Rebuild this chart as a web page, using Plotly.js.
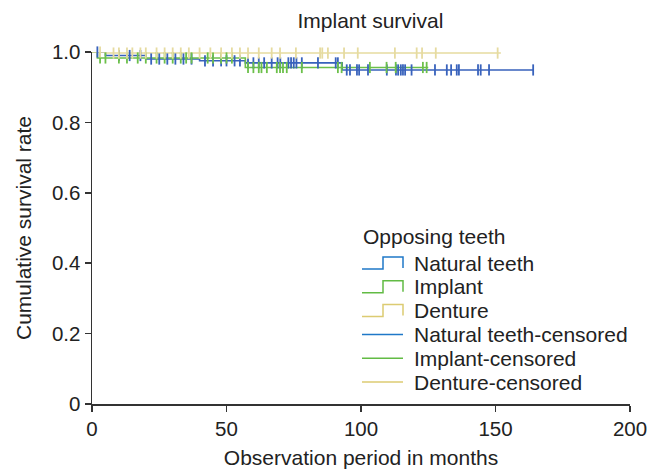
<!DOCTYPE html>
<html><head><meta charset="utf-8">
<script src="https://cdn.plot.ly/plotly-3.0.1.min.js"></script>
<style>html,body{margin:0;padding:0;background:#fff}</style>
</head><body><div id="chart" style="width:651px;height:469px"></div>
<script>
// Kaplan-Meier step curves (event times / survival levels)
const naturalT = [0, 5, 20, 40, 57, 93, 164];
const naturalS = [1.0, 0.99, 0.98, 0.975, 0.969, 0.949, 0.949];
const implantT = [0, 2, 57, 125];
const implantS = [1.0, 0.983, 0.956, 0.956];
const dentureT = [0, 5, 152];
const dentureS = [1.0, 0.997, 0.997];

// Censored observation times (months)
const naturalCens = [2, 10, 14, 18, 22, 25, 28, 31, 34, 37, 42, 45, 48, 50, 53, 55, 58, 60, 62, 64,
  66.8, 69, 70, 73, 74, 75, 76, 78, 84, 90.6, 91.4,
  94.7, 95.9, 98.5, 99.3, 102.6, 109.6, 113, 113.8, 114.8, 115.6, 116.4, 118.8, 127.5, 131.9, 133.5,
  135.6, 136.4, 143.5, 144.5, 147.6, 164];
const implantCens = [3, 5, 10, 13, 17, 20, 24, 27, 30, 33, 35, 37, 43, 45, 48, 50, 52,
  58, 60, 62, 63, 65, 68.7, 69.9, 71, 72.4, 78, 91.4, 92.8, 103.3, 109.5, 112.9, 123, 124.4];
const dentureCens = [3, 8, 10, 13, 15, 18, 20, 24, 27, 30, 33, 36, 40, 44, 48, 52, 55, 58, 62,
  66.8, 69.9, 75.8, 84.8, 85.6, 87.7, 93.7, 98.8, 112.6, 120.7, 122.7, 127.8, 150.8];

const groups = ["Natural teeth", "Implant", "Denture"];
const legendTitle = "Opposing teeth";
const lineColors = ["#3862bc", "#6cc04a", "#e6dba0"];
const legendColors = ["#1f78c8", "#62bb44", "#dccb72"];

function stepLevel(T, S, t) {
  let v = S[0];
  for (let i = 0; i < T.length; i++) { if (T[i] <= t) v = S[i]; }
  return v;
}

const curves = [[naturalT, naturalS, naturalCens], [implantT, implantS, implantCens], [dentureT, dentureS, dentureCens]];
const traces = [];
curves.forEach((c, i) => {
  traces.push({x: c[0], y: c[1], type: "scatter", mode: "lines", line: {shape: "hv", color: lineColors[i], width: 1.6},
    name: groups[i], cliponaxis: false, showlegend: false});
});
curves.forEach((c, i) => {
  traces.push({x: c[2], y: c[2].map(t => stepLevel(c[0], c[1], t)), type: "scatter", mode: "markers",
    marker: {symbol: "line-ns", size: 8, line: {color: lineColors[i], width: 1.8}},
    name: groups[i] + "-censored", cliponaxis: false, showlegend: false});
});

// Custom legend (step icons like the reference) in plot-pixel placement
const L = 92, R = 630, T = 52, B = 404;
const px = v => (v - L) / (R - L);
const py = v => (B - v) / (B - T);
const FS = 21;
const annotations = [{text: legendTitle, xref: "paper", yref: "paper", x: px(361), y: py(236), xanchor: "left", yanchor: "middle",
  showarrow: false, font: {size: FS, color: "#222"}}];
const shapes = [];
const labels = groups.concat(groups.map(g => g + "-censored"));
labels.forEach((lab, k) => {
  const yc = 263 + k * 23.8;
  const col = legendColors[k % 3];
  annotations.push({text: lab, xref: "paper", yref: "paper", x: px(412), y: py(yc), xanchor: "left", yanchor: "middle",
    showarrow: false, font: {size: FS, color: "#222"}});
  if (k < 3) {
    shapes.push({type: "path", xref: "paper", yref: "paper",
      path: `M${px(362)},${py(yc + 6)} L${px(383)},${py(yc + 6)} L${px(383)},${py(yc - 6)} L${px(403)},${py(yc - 6)} L${px(403)},${py(yc + 5)}`,
      line: {color: col, width: 1.5}});
  } else {
    shapes.push({type: "line", xref: "paper", yref: "paper", x0: px(362), x1: px(403), y0: py(yc), y1: py(yc),
      line: {color: col, width: 1.5}});
  }
});

const layout = {
  width: 651, height: 469,
  margin: {l: L, r: 651 - R, t: T, b: 469 - B},
  paper_bgcolor: "#fff", plot_bgcolor: "#fff",
  font: {family: "Liberation Sans, Arial, sans-serif", color: "#222", size: FS},
  title: {text: "Implant survival", x: 0.569, xanchor: "center", yref: "paper", y: 1, yanchor: "bottom",
    pad: {b: 24}, font: {size: FS, color: "#222"}},
  xaxis: {range: [0, 200], tickvals: [0, 50, 100, 150, 200], showgrid: false, zeroline: false,
    showline: true, linecolor: "#333", linewidth: 1.5, ticks: "outside", ticklen: 6, tickcolor: "#333", tickwidth: 1.5,
    tickfont: {size: 20.5, color: "#222"},
    title: {text: "Observation period in months", font: {size: FS, color: "#222"}, standoff: 18}},
  yaxis: {range: [0, 1.0], tickvals: [0, 0.2, 0.4, 0.6, 0.8, 1.0], ticktext: ["0", "0.2", "0.4", "0.6", "0.8", "1.0"],
    showgrid: false, zeroline: false, showline: true, linecolor: "#333", linewidth: 1.5, ticks: "outside", ticklen: 6,
    tickcolor: "#333", tickwidth: 1.5, tickfont: {size: 20.5, color: "#222"},
    title: {text: "Cumulative survival rate", font: {size: FS, color: "#222"}, standoff: 14}},
  showlegend: false,
  annotations: annotations,
  shapes: shapes
};
Plotly.newPlot("chart", traces, layout, {displayModeBar: false, staticPlot: true});
</script></body></html>
